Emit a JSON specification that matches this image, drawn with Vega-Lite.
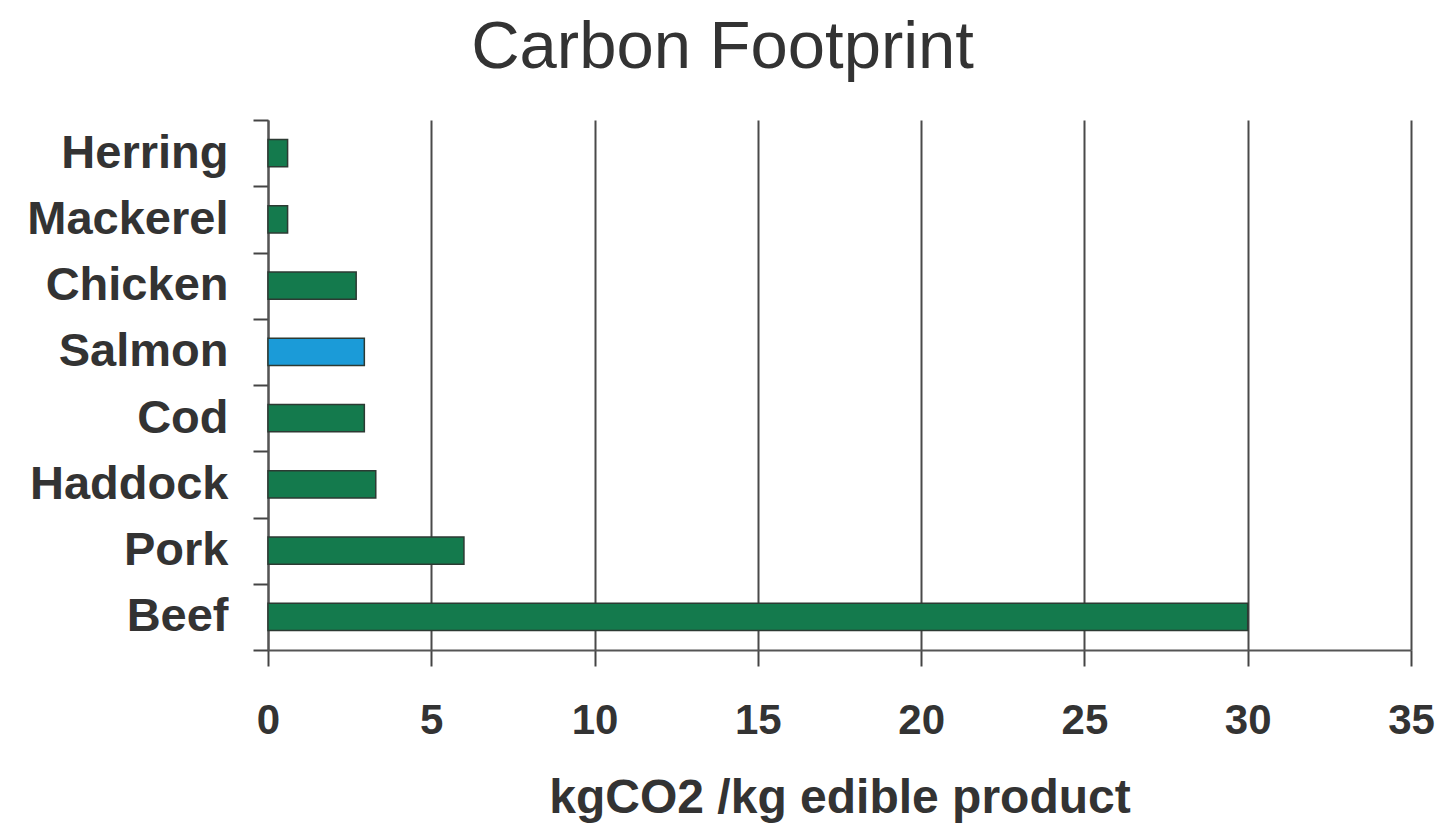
{
  "$schema": "https://vega.github.io/schema/vega-lite/v6.json",
  "autosize": {"type": "none"},
  "width": 1143,
  "height": 530,
  "padding": {"left": 268, "top": 120, "right": 29, "bottom": 181},
  "background": "white",
  "title": {
    "text": "Carbon Footprint",
    "font": "Liberation Sans",
    "fontSize": 67,
    "fontWeight": "normal",
    "color": "#333333",
    "anchor": "middle",
    "frame": "bounds",
    "offset": 14,
    "dx": -8
  },
  "data": {
    "values": [
      {"food": "Herring", "co2": 0.6},
      {"food": "Mackerel", "co2": 0.6},
      {"food": "Chicken", "co2": 2.7},
      {"food": "Salmon", "co2": 2.95},
      {"food": "Cod", "co2": 2.95},
      {"food": "Haddock", "co2": 3.3},
      {"food": "Pork", "co2": 6.0},
      {"food": "Beef", "co2": 30.0}
    ]
  },
  "mark": {"type": "bar", "stroke": "#2c3a33", "strokeWidth": 1.5, "height": {"band": 0.41}},
  "encoding": {
    "y": {
      "field": "food",
      "type": "nominal",
      "sort": null,
      "scale": {"paddingInner": 0, "paddingOuter": 0},
      "axis": {
        "title": null,
        "tickBand": "extent",
        "tickSize": 15,
        "tickColor": "#444444",
        "tickWidth": 2,
        "domainColor": "#555555",
        "domainWidth": 2,
        "labelFont": "Liberation Sans",
        "labelFontSize": 47,
        "labelFontWeight": "bold",
        "labelColor": "#333333",
        "labelPadding": 25,
        "labelLimit": 0,
        "grid": false
      }
    },
    "x": {
      "field": "co2",
      "type": "quantitative",
      "scale": {"domain": [0, 35], "nice": false},
      "axis": {
        "title": "kgCO2 /kg edible product",
        "values": [0, 5, 10, 15, 20, 25, 30, 35],
        "tickSize": 16,
        "tickColor": "#444444",
        "tickWidth": 2,
        "domainColor": "#555555",
        "domainWidth": 2,
        "grid": true,
        "gridColor": "#4a4a4a",
        "gridWidth": 2,
        "gridOpacity": 1,
        "labelFont": "Liberation Sans",
        "labelFontSize": 42,
        "labelFontWeight": "bold",
        "labelColor": "#333333",
        "labelPadding": 34,
        "labelFlush": false,
        "labelOverlap": false,
        "titleFont": "Liberation Sans",
        "titleFontSize": 48,
        "titleFontWeight": "bold",
        "titleColor": "#333333",
        "titlePadding": 33
      }
    },
    "color": {
      "condition": {"test": "datum.food === 'Salmon'", "value": "#1b9bd8"},
      "value": "#147a4d"
    }
  },
  "config": {
    "view": {"stroke": null}
  }
}
